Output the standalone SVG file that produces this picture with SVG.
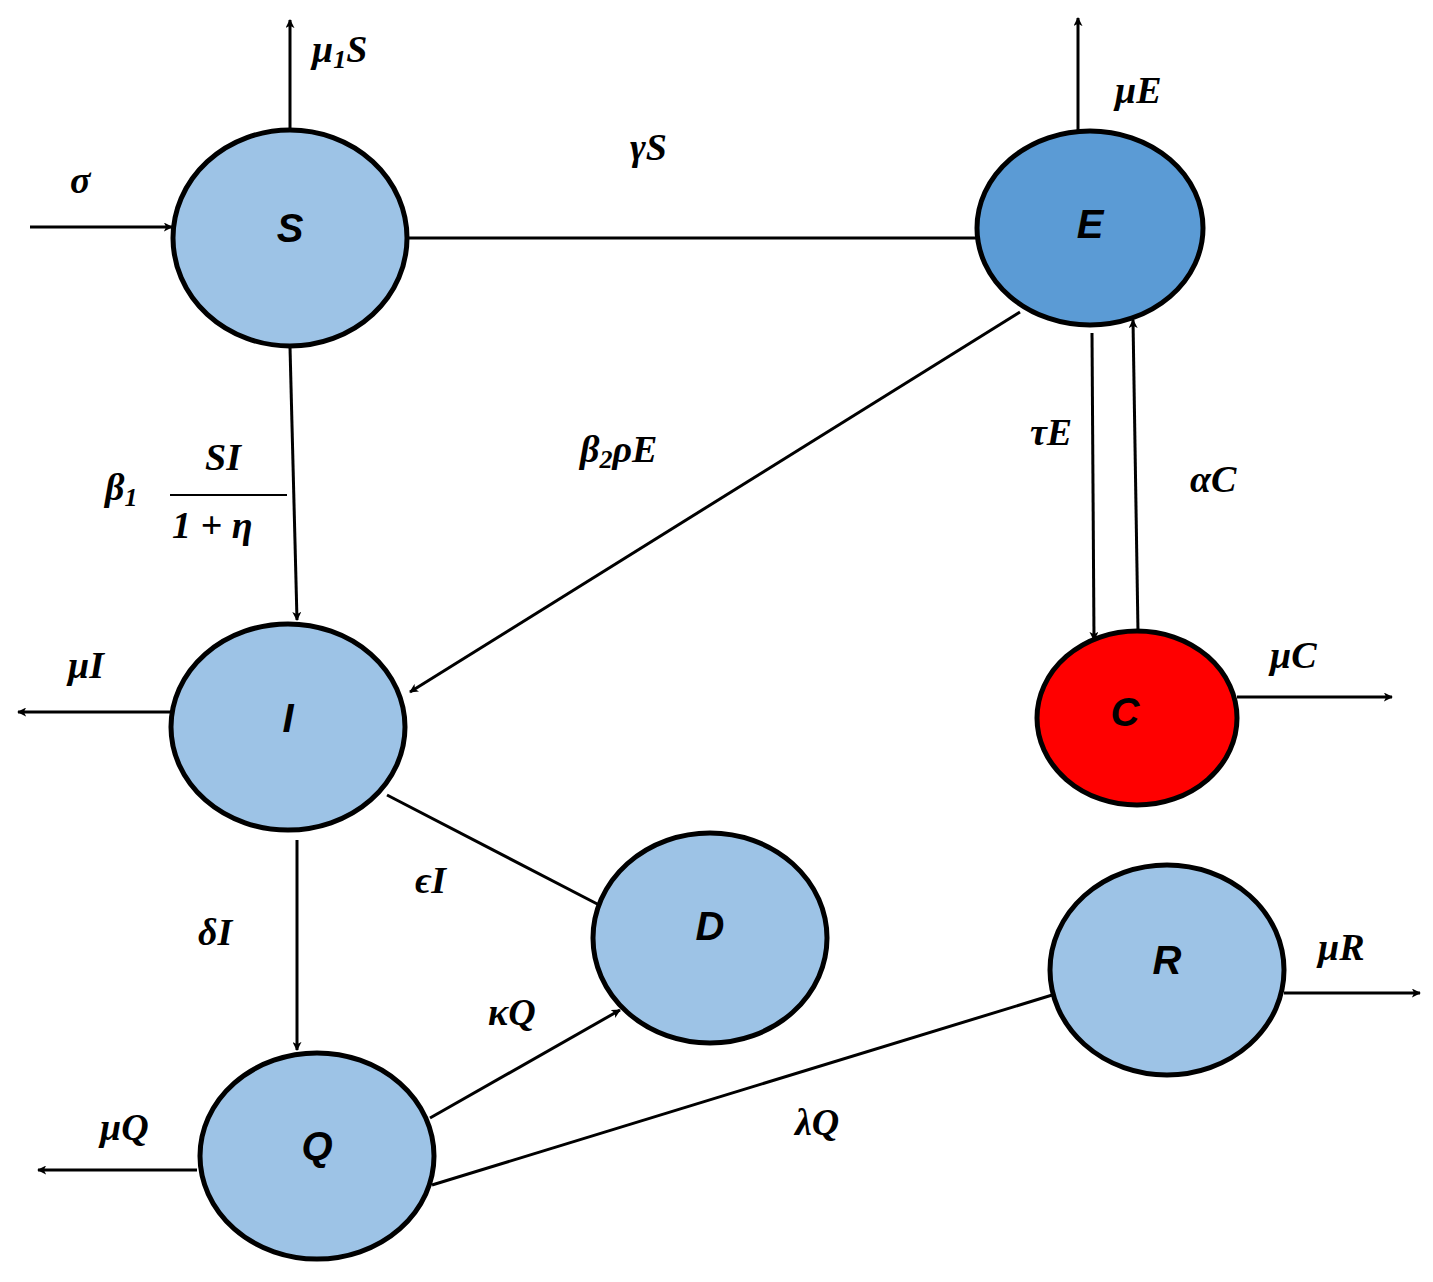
<svg xmlns="http://www.w3.org/2000/svg" width="1433" height="1282" viewBox="0 0 1433 1282">
<style>
.n{stroke:#000;stroke-width:5}
.lb{fill:#9DC3E6}
.nt{font-family:"Liberation Sans",sans-serif;font-weight:bold;font-style:italic;font-size:40px;text-anchor:middle}
.t{font-family:"Liberation Serif",serif;font-weight:bold;font-style:italic;font-size:38px}
.e{stroke:#000;stroke-width:3;fill:none;marker-end:url(#a)}
</style>
<defs>
<marker id="a" viewBox="0 0 20 20" refX="18" refY="10" markerWidth="9" markerHeight="9" orient="auto" markerUnits="userSpaceOnUse">
<path d="M0,0 L20,10 L0,20 L5,10 Z" fill="#000"/>
</marker>
</defs>
<rect width="1433" height="1282" fill="#fff"/>
<g id="connectors">
<path class="e" d="M290,130 V20" style="marker-end:url(#a)"/>
<path class="e" d="M30,227 H172"/>
<path class="e" d="M407,238 H990"/>
<path class="e" d="M1078,130 V18"/>
<path class="e" d="M290,347 L297,620"/>
<path class="e" d="M1020,312 L410,692"/>
<path class="e" d="M1092,333 L1094,640"/>
<path class="e" d="M1138,632 L1133,320"/>
<path class="e" d="M1237,697 H1392"/>
<path class="e" d="M172,712 H18"/>
<path class="e" d="M387,795 L605,908"/>
<path class="e" d="M297,840 V1050"/>
<path class="e" d="M430,1118 L620,1010"/>
<path class="e" d="M432,1185 L1062,992"/>
<path class="e" d="M197,1170 H38"/>
<path class="e" d="M1284,993 H1420"/>
</g>
<g id="S"><ellipse class="n lb" cx="290" cy="238" rx="117" ry="108"/><text class="nt" x="290" y="242">S</text></g>
<g id="E"><ellipse class="n" fill="#5B9BD5" cx="1090" cy="228" rx="113" ry="97"/><text class="nt" x="1090" y="238">E</text></g>
<g id="I"><ellipse class="n lb" cx="288" cy="727" rx="117" ry="103"/><text class="nt" x="288" y="732">I</text></g>
<g id="C"><ellipse class="n" fill="#FF0000" cx="1137" cy="718" rx="100" ry="87"/><text class="nt" x="1125" y="726">C</text></g>
<g id="D"><ellipse class="n lb" cx="710" cy="938" rx="117" ry="105"/><text class="nt" x="710" y="940">D</text></g>
<g id="R"><ellipse class="n lb" cx="1167" cy="970" rx="117" ry="105"/><text class="nt" x="1167" y="974">R</text></g>
<g id="Q"><ellipse class="n lb" cx="317" cy="1156" rx="117" ry="103"/><text class="nt" x="317" y="1160">Q</text></g>
<g id="labels">
<text class="t" x="312" y="62">μ<tspan font-size="26" dy="6">1</tspan><tspan dy="-6">S</tspan></text>
<text class="t" x="630" y="160">γS</text>
<text class="t" x="70" y="193">σ</text>
<text class="t" x="1115" y="103">μE</text>
<text class="t" x="580" y="462">β<tspan font-size="26" dy="6">2</tspan><tspan dy="-6">ρE</tspan></text>
<text class="t" x="1030" y="445">τE</text>
<text class="t" x="1190" y="492">αC</text>
<text class="t" x="1270" y="668">μC</text>
<text class="t" x="68" y="678">μI</text>
<text class="t" x="105" y="500">β<tspan font-size="26" dy="6">1</tspan></text>
<text class="t" x="205" y="470">SI</text>
<line x1="170" y1="495" x2="287" y2="495" stroke="#000" stroke-width="2"/>
<text class="t" x="172" y="538" font-style="normal">1 + <tspan font-style="italic">η</tspan></text>
<text class="t" x="415" y="893">ϵI</text>
<text class="t" x="198" y="945">δI</text>
<text class="t" x="488" y="1025">κQ</text>
<text class="t" x="795" y="1135">λQ</text>
<text class="t" x="100" y="1140">μQ</text>
<text class="t" x="1318" y="960">μR</text>
</g>
</svg>
